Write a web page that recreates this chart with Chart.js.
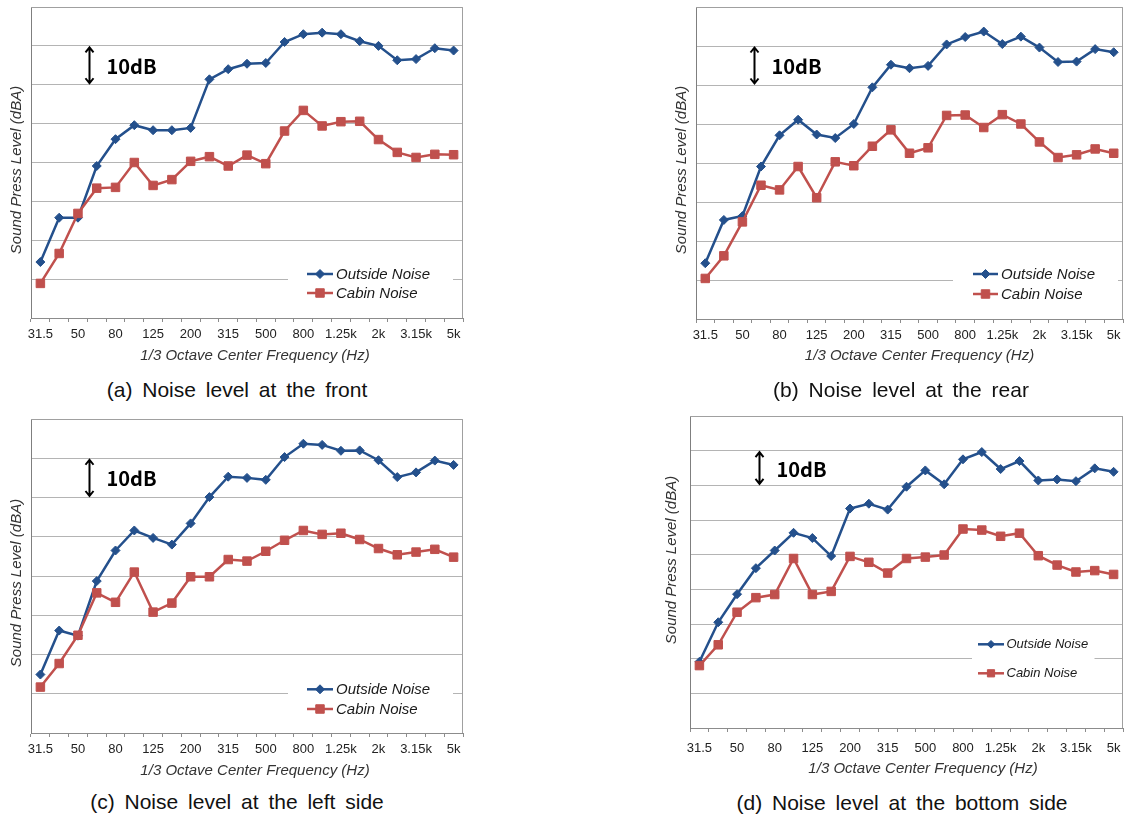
<!DOCTYPE html>
<html>
<head>
<meta charset="utf-8">
<title>Noise level spectra</title>
<script src="https://cdn.jsdelivr.net/npm/chart.js@4.4.1/dist/chart.umd.min.js"></script>
<style>
  html, body { margin: 0; padding: 0; background: #fff; }
  #page { position: relative; width: 1130px; height: 820px; overflow: hidden; }
  .panel { position: absolute; }
  .panel canvas { display: block; }
  .caption {
    position: absolute;
    font-family: "Liberation Sans", Arial, sans-serif;
    font-size: 21px;
    color: #111;
    word-spacing: 4px;
    white-space: nowrap;
    transform: translate(-50%, -50%);
  }
</style>
</head>
<body>
<div id="page">
  <div class="panel" style="left:0px;top:0px;"><canvas id="chartFront" width="470" height="372"></canvas></div>
  <div class="panel" style="left:640px;top:0px;"><canvas id="chartRear" width="490" height="372"></canvas></div>
  <div class="panel" style="left:0px;top:410px;"><canvas id="chartLeft" width="470" height="375"></canvas></div>
  <div class="panel" style="left:640px;top:400px;"><canvas id="chartBottom" width="490" height="385"></canvas></div>

  <div class="caption" style="left:237px;top:390px;">(a) Noise level at the front</div>
  <div class="caption" style="left:901px;top:390px;">(b) Noise level at the rear</div>
  <div class="caption" style="left:237px;top:802px;">(c) Noise level at the left side</div>
  <div class="caption" style="left:902px;top:803px;">(d) Noise level at the bottom side</div>
</div>

<script>
// 1/3 octave band centre frequencies (Hz)
const bands = ['31.5', '40', '50', '63', '80', '100', '125', '160', '200', '250', '315', '400',
               '500', '630', '800', '1k', '1.25k', '1.6k', '2k', '2.5k', '3.15k', '4k', '5k'];
// bands that carry a printed tick label
const shownBands = ['31.5', '50', '80', '125', '200', '315', '500', '800', '1.25k', '2k', '3.15k', '5k'];

// sound pressure levels, dBA
const frontOutside  = [54.4, 65.8, 65.8, 79.1, 86.0, 89.6, 88.3, 88.3, 88.9, 101.4, 104.0, 105.4, 105.6, 111.0, 113.0, 113.4, 113.0, 111.2, 110.0, 106.3, 106.6, 109.4, 108.8];
const frontCabin    = [48.9, 56.6, 66.9, 73.4, 73.6, 80.0, 74.1, 75.6, 80.3, 81.5, 79.1, 81.9, 79.7, 88.1, 93.4, 89.4, 90.5, 90.6, 85.9, 82.6, 81.3, 82.1, 82.0];
const rearOutside   = [54.3, 65.4, 66.4, 79.1, 87.1, 91.1, 87.3, 86.4, 90.0, 99.4, 105.2, 104.3, 104.9, 110.4, 112.3, 113.7, 110.5, 112.4, 109.6, 105.9, 106.0, 109.2, 108.4];
const rearCabin     = [50.4, 56.2, 64.9, 74.3, 73.1, 79.1, 71.1, 80.3, 79.3, 84.3, 88.5, 82.5, 83.9, 92.2, 92.3, 89.1, 92.4, 90.0, 85.4, 81.4, 82.1, 83.6, 82.5];
const leftOutside   = [54.9, 66.1, 64.8, 78.7, 86.5, 91.6, 89.7, 88.0, 93.4, 100.1, 105.3, 105.0, 104.5, 110.3, 113.7, 113.4, 111.9, 112.0, 109.5, 105.2, 106.4, 109.4, 108.3];
const leftCabin     = [51.7, 57.7, 64.9, 75.7, 73.3, 81.0, 70.8, 73.1, 79.8, 79.8, 84.2, 83.8, 86.3, 89.1, 91.6, 90.6, 90.9, 89.3, 87.0, 85.4, 86.1, 86.8, 84.8];
const bottomOutside = [59.1, 70.5, 78.6, 86.1, 91.2, 96.3, 94.8, 89.6, 103.3, 104.7, 103.0, 109.6, 114.3, 110.3, 117.5, 119.6, 114.7, 117.0, 111.4, 111.7, 111.2, 114.9, 113.9];
const bottomCabin   = [58.0, 64.0, 73.4, 77.6, 78.5, 88.9, 78.5, 79.4, 89.5, 87.8, 84.7, 88.9, 89.3, 89.9, 97.4, 97.1, 95.3, 96.2, 89.7, 87.0, 85.0, 85.4, 84.3];

const seriesNames = ['Outside Noise', 'Cabin Noise'];
const scaleBarText = '10dB';
const xTitleText = '1/3 Octave Center Frequency (Hz)';
const yTitleText = 'Sound Press Level (dBA)';

const BLUE = '#24508c';
const RED = '#c0504d';
const SANS = '"Liberation Sans", Arial, sans-serif';
const MARKERS = [
  { style: 'rectRot', radius: 4.5 },
  { style: 'rect', radius: 6 }
];

// frame, legend box, 10 dB scale bar and axis titles
function decor(L) {
  return {
    id: 'decor',
    beforeDatasetsDraw(chart) {
      const { ctx, chartArea: a, scales } = chart;
      ctx.save();
      // top / right frame of the plot area
      ctx.strokeStyle = '#a0a0a0';
      ctx.lineWidth = 1;
      ctx.beginPath();
      ctx.moveTo(a.left, a.top + 0.5);
      ctx.lineTo(a.right - 0.5, a.top + 0.5);
      ctx.lineTo(a.right - 0.5, a.bottom);
      ctx.stroke();

      // legend
      const g = L.legend;
      ctx.fillStyle = '#fff';
      ctx.fillRect(g.x0, g.y0, g.x1 - g.x0, g.y1 - g.y0);
      const colors = [BLUE, RED];
      seriesNames.forEach((name, i) => {
        const y = g.rows[i];
        ctx.strokeStyle = colors[i];
        ctx.fillStyle = colors[i];
        ctx.lineWidth = 2.5;
        ctx.beginPath();
        ctx.moveTo(g.lx0, y);
        ctx.lineTo(g.lx1, y);
        ctx.stroke();
        ctx.lineWidth = 1;
        Chart.helpers.drawPoint(ctx, {
          pointStyle: MARKERS[i].style,
          radius: MARKERS[i].radius * g.markerScale,
          borderWidth: 1,
          rotation: 0
        }, (g.lx0 + g.lx1) / 2, y);
        ctx.fillStyle = '#1a1a1a';
        ctx.font = 'italic ' + g.size + 'px ' + SANS;
        ctx.textAlign = 'left';
        ctx.textBaseline = 'middle';
        ctx.fillText(name, g.tx, y + 0.5);
      });

      // 10 dB scale bar
      const x = Math.round(scales.x.getPixelForValue(L.barIndex)) + 0.5;
      const yTop = scales.y.getPixelForValue(L.yMax - 10) + 1.5;
      const yBot = scales.y.getPixelForValue(L.yMax - 20) - 1.5;
      ctx.strokeStyle = '#000';
      ctx.lineWidth = 2;
      ctx.beginPath();
      ctx.moveTo(x, yTop);
      ctx.lineTo(x, yBot);
      ctx.moveTo(x - 4, yTop + 5);
      ctx.lineTo(x, yTop);
      ctx.lineTo(x + 4, yTop + 5);
      ctx.moveTo(x - 4, yBot - 5);
      ctx.lineTo(x, yBot);
      ctx.lineTo(x + 4, yBot - 5);
      ctx.stroke();
      ctx.fillStyle = '#000';
      ctx.font = 'bold 20px "Noto Sans CJK KR", "Liberation Sans", sans-serif';
      ctx.textAlign = 'left';
      ctx.textBaseline = 'middle';
      ctx.fillText(scaleBarText, x + 17, (yTop + yBot) / 2 + 1);
      ctx.restore();
    },
    afterDraw(chart) {
      const ctx = chart.ctx;
      ctx.save();
      ctx.fillStyle = '#333';
      ctx.font = 'italic 15px ' + SANS;
      ctx.textAlign = 'center';
      ctx.textBaseline = 'middle';
      ctx.fillText(xTitleText, L.xTitle[0], L.xTitle[1]);
      ctx.translate(L.yTitle[0], L.yTitle[1]);
      ctx.rotate(-Math.PI / 2);
      ctx.fillText(yTitleText, 0, 0);
      ctx.restore();
    }
  };
}

function series(i, data, color) {
  return {
    label: seriesNames[i],
    data: data,
    borderColor: color,
    backgroundColor: color,
    borderWidth: 2.5,
    pointStyle: MARKERS[i].style,
    pointRadius: MARKERS[i].radius,
    pointHoverRadius: MARKERS[i].radius,
    pointBorderWidth: 1,
    tension: 0,
    order: i === 0 ? 1 : 0
  };
}

function makePanel(id, outside, cabin, L) {
  return new Chart(document.getElementById(id), {
    type: 'line',
    data: {
      labels: bands,
      datasets: [series(0, outside, BLUE), series(1, cabin, RED)]
    },
    options: {
      responsive: false,
      animation: false,
      events: [],
      layout: { padding: { left: 0, top: L.top, right: L.right, bottom: 0 } },
      plugins: { legend: { display: false }, tooltip: { enabled: false } },
      scales: {
        x: {
          type: 'category',
          offset: true,
          grid: { offset: true, drawOnChartArea: false, drawTicks: true, tickLength: 4, color: '#8c8c8c' },
          border: { display: true, color: '#8c8c8c' },
          ticks: {
            autoSkip: false,
            maxRotation: 0,
            minRotation: 0,
            padding: L.tickPad,
            color: '#222',
            font: { family: SANS, size: 13 },
            callback: (v, i) => shownBands.includes(bands[i]) ? bands[i] : ''
          },
          afterFit: s => { s.height = L.xHeight; }
        },
        y: {
          min: L.yMin,
          max: L.yMax,
          ticks: { display: false, stepSize: 10 },
          grid: { color: '#b4b4b4', drawTicks: false },
          border: { display: true, color: '#7f7f7f' },
          afterFit: s => { s.width = L.yWidth; }
        }
      }
    },
    plugins: [decor(L)]
  });
}

makePanel('chartFront', frontOutside, frontCabin, {
  yMin: 40, yMax: 120, top: 5, right: 6, yWidth: 31, xHeight: 54, tickPad: 4.5,
  barIndex: 2.6,
  xTitle: [255, 356], yTitle: [17, 170],
  legend: { x0: 288, x1: 453, y0: 262, y1: 305, rows: [274, 293], lx0: 307, lx1: 333, tx: 336, size: 15, markerScale: 1 }
});

makePanel('chartRear', rearOutside, rearCabin, {
  yMin: 40, yMax: 120, top: 5, right: 2, yWidth: 56, xHeight: 53, tickPad: 4.2,
  barIndex: 2.64,
  xTitle: [279.5, 356], yTitle: [42, 170],
  legend: { x0: 313, x1: 478, y0: 262, y1: 306, rows: [274, 294], lx0: 333, lx1: 358, tx: 361, size: 15, markerScale: 1 }
});

makePanel('chartLeft', leftOutside, leftCabin, {
  yMin: 40, yMax: 120, top: 9, right: 6, yWidth: 31, xHeight: 52, tickPad: 4.2,
  barIndex: 2.6,
  xTitle: [255, 361], yTitle: [17, 173],
  legend: { x0: 288, x1: 453, y0: 267, y1: 311, rows: [279.3, 299], lx0: 307, lx1: 333, tx: 336, size: 15, markerScale: 1 }
});

makePanel('chartBottom', bottomOutside, bottomCabin, {
  yMin: 40, yMax: 130, top: 16, right: 3, yWidth: 50, xHeight: 57, tickPad: 8.2,
  barIndex: 3.18,
  xTitle: [283, 369], yTitle: [31.5, 160],
  legend: { x0: 332, x1: 454.5, y0: 231, y1: 287, rows: [244.3, 273.3], lx0: 338, lx1: 364, tx: 366.5, size: 13, markerScale: 0.85 }
});
</script>
</body>
</html>
